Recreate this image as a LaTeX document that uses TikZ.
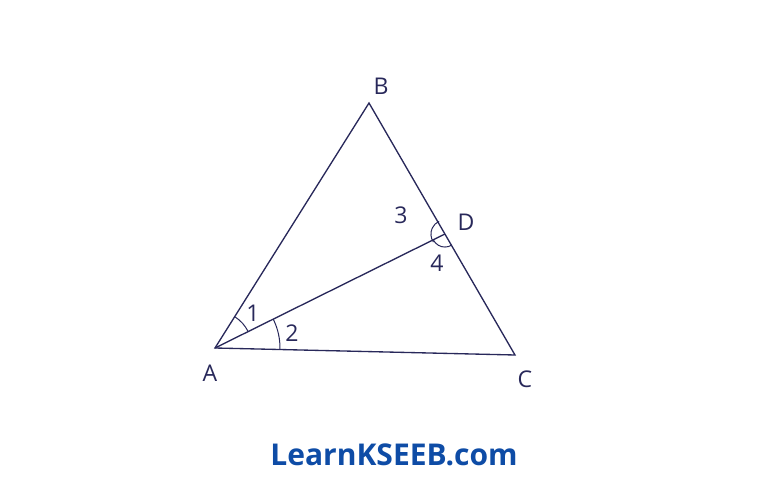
\documentclass[tikz,border=0pt]{standalone}
\usepackage{fontspec}
\setmainfont{Open Sans}
\usetikzlibrary{calc}
\definecolor{ink}{RGB}{40,40,90}
\definecolor{brand}{RGB}{14,76,166}
\tikzset{every picture/.style={line width=0.75pt}}
\tikzset{lbl/.style={inner sep=0.75pt,text=ink,font=\LARGE}}

\begin{document}
\begin{tikzpicture}[x=0.75pt,y=0.75pt,yscale=-1,xscale=1]
\path[use as bounding box] (0,0) rectangle (768,485);

%Points
\coordinate (A) at (215,348);
\coordinate (B) at (369,103);
\coordinate (C) at (515,355);
\coordinate (D) at ($(B)!0.52!(C)$);

%Triangle and line AD
\draw [ink,line width=1pt]  (A) -- (B) -- (C) -- cycle ;
\draw [ink,line width=1pt]  (A) -- (D) ;

%Angle marks at A
\draw [ink]  (A) ++(-57.8:37) arc [start angle=-57.8,end angle=-26.4,radius=37] ;
\draw [ink]  (A) ++(-26.4:65) arc [start angle=-26.4,end angle=1.3,radius=65] ;
%Angle marks at D
\draw [ink]  (D) ++(145:14) arc [start angle=145,end angle=245,radius=14] ;
\draw [ink]  (D) ++(59.9:13) arc [start angle=59.9,end angle=153.6,radius=13] ;

% Text Node
\node [lbl] (lA) at (210,373) {A};
\node [lbl] (lB) at (381,86) {B};
\node [lbl] (lC) at (525,379) {C};
\node [lbl] (lD) at (466,222) {D};
\node [lbl] (l1) at (253,313) {1};
\node [lbl] (l2) at (292,333) {2};
\node [lbl] (l3) at (401,215) {3};
\node [lbl] (l4) at (437,263) {4};
% Text Node
\node [inner sep=0pt,text=brand,font=\bfseries\fontsize{22.5}{26}\selectfont] (site) at (394,455) {LearnKSEEB.com};

\end{tikzpicture}
\end{document}
